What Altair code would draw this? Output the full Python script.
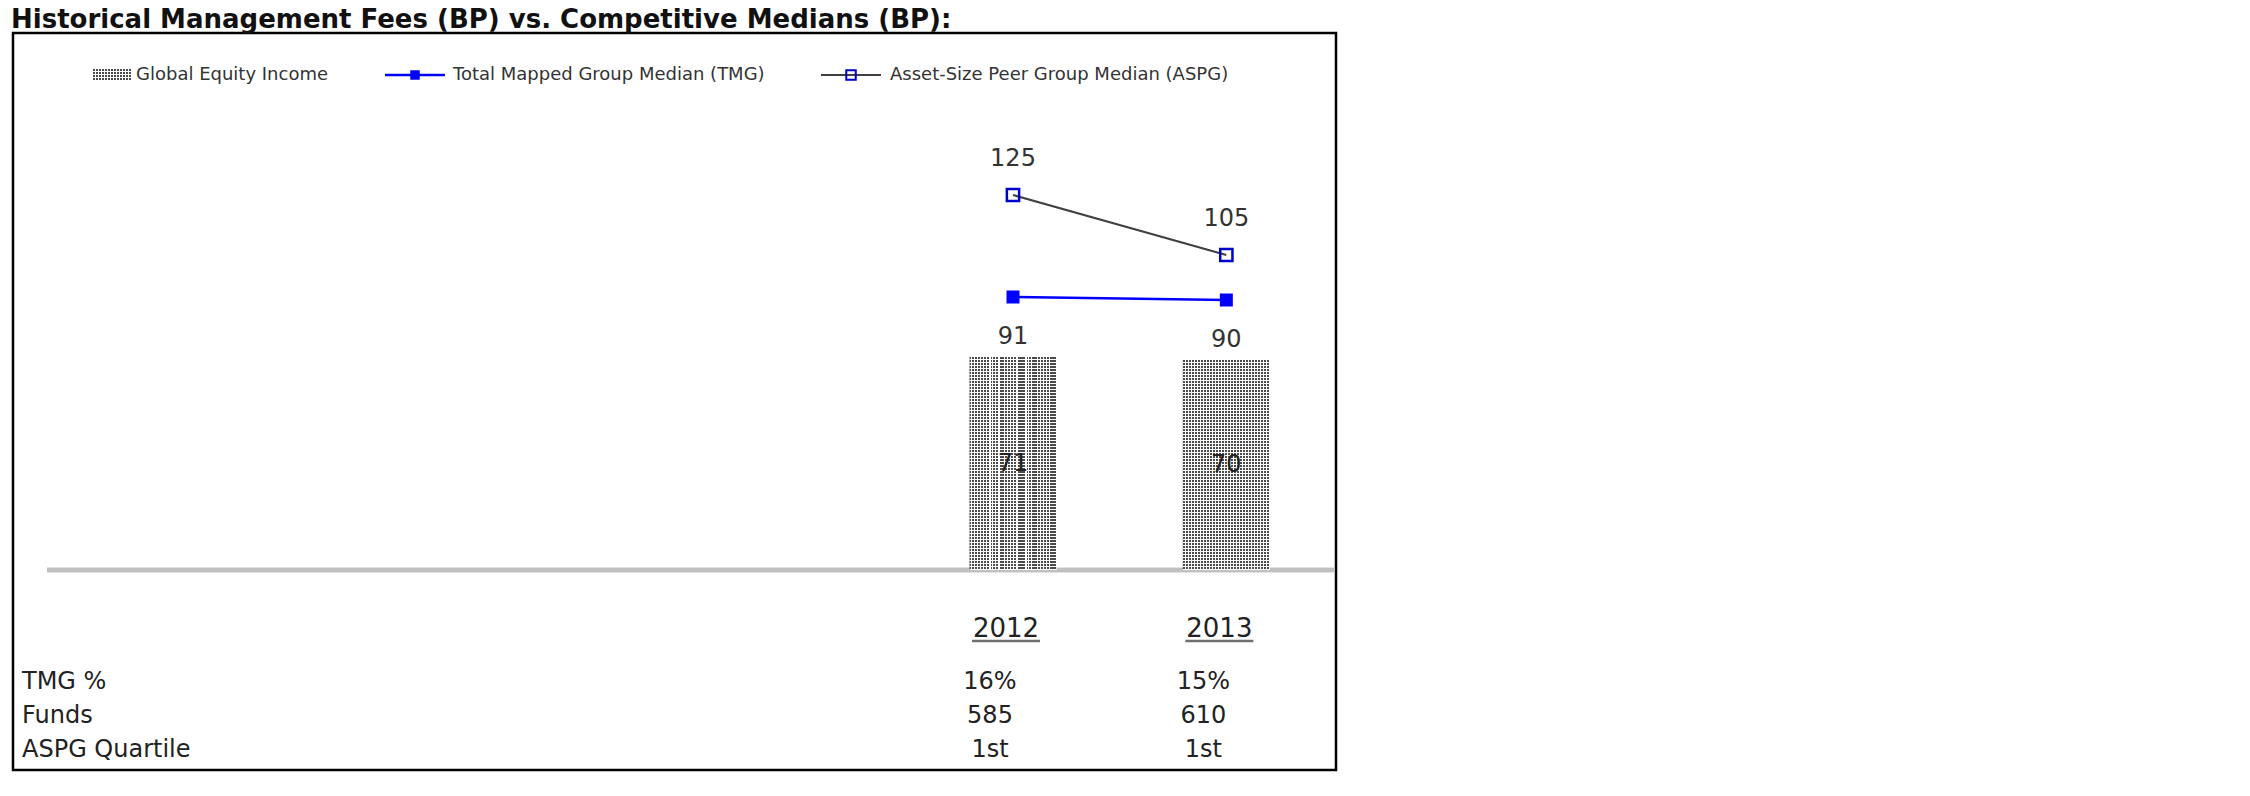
import altair as alt
import pandas as pd

# ---------------- data ----------------
title_text = "Historical Management Fees (BP) vs. Competitive Medians (BP):"
years = [2012, 2013]
gei_fee = [71, 70]            # Global Equity Income (bars)
tmg_median = [91, 90]         # Total Mapped Group Median
aspg_median = [125, 105]      # Asset-Size Peer Group Median
row_labels = ["TMG %", "Funds", "ASPG Quartile"]
tmg_pct = ["16%", "15%"]
funds = ["585", "610"]
aspg_quartile = ["1st", "1st"]
legend_labels = ["Global Equity Income",
                 "Total Mapped Group Median (TMG)",
                 "Asset-Size Peer Group Median (ASPG)"]

FONT = "DejaVu Sans"
W, H = 1323, 737
DOT = "#4a4a4a"


def stripes(n, dark, light, frac, horizontal):
    """hard-stop gradient imitating a dotted fill pattern"""
    stops = []
    for k in range(n):
        a = k / n
        b = (k + frac) / n
        c = (k + 1) / n
        stops += [alt.GradientStop(offset=a, color=dark),
                  alt.GradientStop(offset=b, color=dark),
                  alt.GradientStop(offset=b, color=light),
                  alt.GradientStop(offset=c, color=light)]
    if horizontal:
        return alt.Gradient(gradient="linear", stops=stops, x1=0, x2=1, y1=0, y2=0)
    return alt.Gradient(gradient="linear", stops=stops, x1=0, x2=0, y1=0, y2=1)


CLEAR = "rgba(255,255,255,0)"
col_fill = stripes(29, DOT, "#ffffff", 2 / 3, True)

df = pd.DataFrame({"year": years, "gei": gei_fee, "tmg": tmg_median,
                   "aspg": aspg_median})

xs = alt.Scale(domain=[2007.5, 2013.5], range=[35, 1325], nice=False, zero=False)
ys = alt.Scale(domain=[0, 150], range=[537, 87], nice=False, zero=False)
X = alt.X("year:Q", scale=xs, axis=None)

base = alt.Chart(df)

baseline = base.transform_calculate(zero="0").mark_rule(
    color="#c0c0c0", strokeWidth=4.5
).encode(y=alt.Y("zero:Q", scale=ys, axis=None), x=alt.value(34), x2=alt.value(1322))

bars = base.mark_bar(size=87, color=col_fill).encode(
    x=X, y=alt.Y("gei:Q", scale=ys, axis=None))
# one row mask per bar so the dot rows stay on a 3px grid
masks = []
for yr, v in zip(years, gei_fee):
    masks.append(base.transform_filter(f"datum.year == {yr}").mark_bar(
        size=87, color=stripes(int(v), CLEAR, "#ffffff", 2 / 3, False)).encode(
        x=X, y=alt.Y("gei:Q", scale=ys, axis=None)))

bar_labels = base.transform_calculate(mid="datum.gei / 2").mark_text(
    font=FONT, fontSize=24, color="#222222", baseline="middle"
).encode(x=X, y=alt.Y("mid:Q", scale=ys, axis=None), text="gei:Q")

tmg_line = base.mark_line(color="#0000ff", strokeWidth=2.5).encode(
    x=X, y=alt.Y("tmg:Q", scale=ys, axis=None))
tmg_pts = base.mark_point(shape="square", filled=True, size=169, color="#0000ff",
                          opacity=1).encode(x=X, y=alt.Y("tmg:Q", scale=ys, axis=None))
tmg_lbl = base.mark_text(font=FONT, fontSize=24, color="#333333", baseline="middle",
                         dy=40).encode(x=X, y=alt.Y("tmg:Q", scale=ys, axis=None),
                                       text="tmg:Q")

aspg_line = base.mark_line(color="#404040", strokeWidth=2).encode(
    x=X, y=alt.Y("aspg:Q", scale=ys, axis=None))
aspg_pts = base.mark_point(shape="square", filled=False, size=150, color="#0000cc",
                           strokeWidth=2.5, opacity=1).encode(
    x=X, y=alt.Y("aspg:Q", scale=ys, axis=None))
aspg_lbl = base.mark_text(font=FONT, fontSize=24, color="#333333", baseline="middle",
                          dy=-36).encode(x=X, y=alt.Y("aspg:Q", scale=ys, axis=None),
                                         text="aspg:Q")

year_lbl = base.mark_text(font=FONT, fontSize=26, color="#222222",
                          baseline="alphabetic", dx=-7).encode(
    x=X, y=alt.value(604), text=alt.Text("year:Q", format="d"))
year_ul = base.mark_tick(orient="horizontal", size=68, thickness=2.5,
                         color="#333333", xOffset=-7).encode(x=X, y=alt.value(608))

row_y = [656, 690, 724]
row_vals = [tmg_pct, funds, aspg_quartile]
table_layers = []
for lab, yv, vals in zip(row_labels, row_y, row_vals):
    tdf = pd.DataFrame({"year": years, "txt": vals})
    table_layers.append(
        alt.Chart(tdf).mark_text(font=FONT, fontSize=24, color="#222222",
                                 baseline="alphabetic", dx=-23).encode(
            x=X, y=alt.value(yv), text="txt:N"))
    table_layers.append(
        alt.Chart(pd.DataFrame({"lab": [lab]})).mark_text(
            font=FONT, fontSize=24, color="#222222", baseline="alphabetic",
            align="left").encode(x=alt.value(9), y=alt.value(yv), text="lab:N"))

# custom legend
LY = 42
one = pd.DataFrame({"a": [0]})
lg = []
lg.append(alt.Chart(one).mark_rect(color=stripes(13, DOT, "#ffffff", 2 / 3, True)).encode(
    x=alt.value(80), x2=alt.value(119), y=alt.value(LY - 6), y2=alt.value(LY + 6)))
lg.append(alt.Chart(one).mark_rect(color=stripes(4, CLEAR, "#ffffff", 2 / 3, False)).encode(
    x=alt.value(80), x2=alt.value(119), y=alt.value(LY - 6), y2=alt.value(LY + 6)))
lg.append(alt.Chart(one).mark_rule(color="#0000ff", strokeWidth=2.5).encode(
    x=alt.value(372), x2=alt.value(432), y=alt.value(LY)))
lg.append(alt.Chart(one).mark_point(shape="square", filled=True, size=90,
                                    color="#0000ff", opacity=1).encode(
    x=alt.value(402), y=alt.value(LY)))
lg.append(alt.Chart(one).mark_rule(color="#404040", strokeWidth=2).encode(
    x=alt.value(808), x2=alt.value(868), y=alt.value(LY)))
lg.append(alt.Chart(one).mark_point(shape="square", filled=False, size=90,
                                    color="#0000cc", strokeWidth=2, opacity=1).encode(
    x=alt.value(838), y=alt.value(LY)))
for lab, lx in zip(legend_labels, [123, 440, 877]):
    lg.append(alt.Chart(pd.DataFrame({"t": [lab]})).mark_text(
        font=FONT, fontSize=18, color="#333333", align="left", baseline="middle"
    ).encode(x=alt.value(lx), y=alt.value(LY), text="t:N"))

chart = alt.layer(
    baseline, bars, *masks, bar_labels, tmg_line, tmg_pts, tmg_lbl,
    aspg_line, aspg_pts, aspg_lbl, year_lbl, year_ul, *table_layers, *lg
).properties(
    width=W, height=H,
    title=alt.TitleParams(title_text, anchor="start", frame="group", font=FONT,
                          fontSize=26, fontWeight="bold", color="#111111",
                          offset=0, dx=-2),
    autosize=alt.AutoSizeParams(type="none"),
    padding={"left": 13, "top": 33, "right": 20, "bottom": 20},
).configure_view(stroke="#000000", strokeWidth=2.5)

chart.save("out.html", embed_options={"renderer": "svg", "actions": False})
